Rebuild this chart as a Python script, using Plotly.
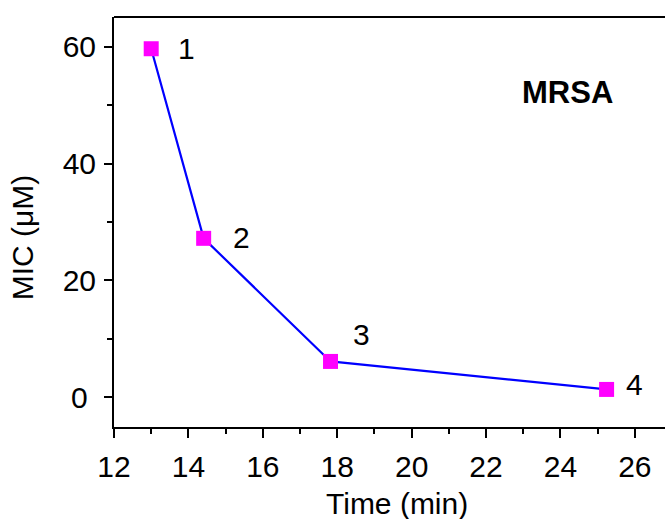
import plotly.graph_objects as go

time_min = [13.0, 14.41, 17.82, 25.24]
mic_um = [59.7, 27.2, 6.1, 1.3]
point_labels = ["1", "2", "3", "4"]
x_ticks = [12, 14, 16, 18, 20, 22, 24, 26]
y_ticks = [0, 20, 40, 60]
y_ticktext = ["0\u00a0", "20", "40", "60"]

FONT = "Arial, 'Liberation Sans', sans-serif"
FS = 30

fig = go.Figure()
fig.add_trace(go.Scatter(
    x=time_min, y=mic_um, mode="lines+markers",
    line=dict(color="#0000FF", width=2.2),
    marker=dict(symbol="square", size=15, color="#FF00FF", line=dict(width=0)),
    showlegend=False, hoverinfo="skip",
))

label_shifts = [(35, 0), (38, 1), (31, 27), (28, 5)]
for xv, yv, t, (dx, dy) in zip(time_min, mic_um, point_labels, label_shifts):
    fig.add_annotation(x=xv, y=yv, text=t, showarrow=False, xshift=dx, yshift=dy,
                       xanchor="center", yanchor="middle",
                       font=dict(family=FONT, size=FS, color="black"))

fig.add_annotation(xref="paper", yref="paper", x=0.8234, y=0.815, text="<b>MRSA</b>",
                   xanchor="center", yanchor="middle",
                   showarrow=False, font=dict(family=FONT, size=31, color="black"))
fig.add_annotation(xref="paper", yref="paper", x=0.513, y=0, yshift=-76, text="Time (min)",
                   xanchor="center", yanchor="middle", borderpad=0,
                   showarrow=False, font=dict(family=FONT, size=FS, color="black"))
fig.add_annotation(xref="paper", yref="paper", x=0, xshift=-92, y=0.4627, text="MIC (μM)",
                   xanchor="center", yanchor="middle",
                   textangle=-90, showarrow=False, font=dict(family=FONT, size=FS, color="black"))

fig.add_shape(type="line", xref="paper", yref="paper", x0=0, x1=1, y0=1, y1=1,
              line=dict(color="black", width=2))

fig.update_xaxes(range=[12, 26.81], tickmode="array", tickvals=x_ticks, automargin=False,
                 showline=True, linecolor="black", linewidth=2, mirror=False,
                 ticks="outside", ticklen=9, tickwidth=2, tickcolor="black",
                 showgrid=False, zeroline=False, ticklabelstandoff=3,
                 tickfont=dict(family=FONT, size=FS, color="black"),
                 minor=dict(dtick=1, tick0=12, ticks="outside", ticklen=5, tickwidth=2, tickcolor="black", showgrid=False))
fig.update_yaxes(range=[-5.14, 65.14], tickmode="array", tickvals=y_ticks, ticktext=y_ticktext, automargin=False,
                 showline=True, linecolor="black", linewidth=2, mirror=False,
                 ticks="outside", ticklen=8, tickwidth=2, tickcolor="black",
                 showgrid=False, zeroline=False, ticklabelstandoff=2,
                 tickfont=dict(family=FONT, size=FS, color="black"),
                 minor=dict(dtick=10, tick0=0, ticks="outside", ticklen=5, tickwidth=2, tickcolor="black", showgrid=False))

fig.update_layout(width=665, height=519, margin=dict(l=114, r=0, t=17, b=92),
                  plot_bgcolor="white", paper_bgcolor="white",
                  font=dict(family=FONT, size=FS, color="black"))

fig.write_html("out.html", config={"displayModeBar": False},
               post_script="document.body.style.margin='0';document.body.style.overflow='hidden';")
